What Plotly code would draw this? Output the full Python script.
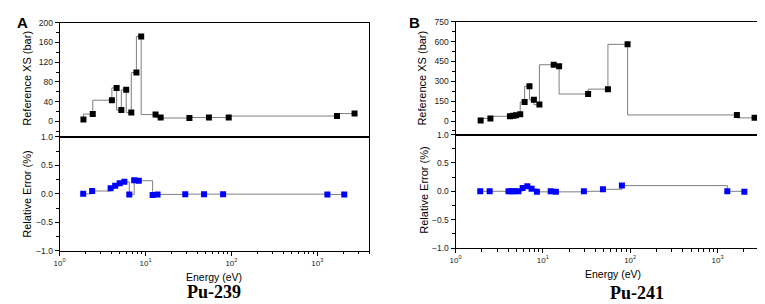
import plotly.graph_objects as go

# ---------------- data ----------------
# Pu-239
energy_239 = [1.88, 2.39, 3.92, 4.43, 5.0, 5.67, 6.47, 7.38, 8.35, 12.1, 13.8, 29, 48, 80, 1310, 2060]
xs_239 = [4, 15, 43, 68, 23, 64, 18, 99, 172, 14, 8, 7, 8, 8, 11, 16]
err_239 = [0.0, 0.05, 0.1, 0.14, 0.185, 0.21, -0.01, 0.24, 0.23, -0.02, -0.01, -0.005, -0.005, -0.005, -0.01, -0.01]

# Pu-241
energy_241 = [1.92, 2.46, 4.04, 4.40, 4.72, 5.25, 5.87, 6.64, 7.43, 8.55, 12.3, 14.1, 29.5, 48.8, 80.4, 1295, 2030]
xs_241 = [5, 20, 36, 40, 44, 52, 143, 262, 160, 124, 425, 413, 204, 241, 579, 46, 24]
err_241 = [0, 0, 0, 0, 0, 0, 0.06, 0.09, 0.045, -0.01, 0, -0.01, 0, 0.035, 0.1, 0, -0.01]

x_tickvals = [1, 10, 100, 1000]
x_ticktext = ["10<sup>0</sup>", "10<sup>1</sup>", "10<sup>2</sup>", "10<sup>3</sup>"]
x_minor = [m * d for d in (1, 10, 100, 1000) for m in range(2, 10)]
err_ticks = [-1.0, -0.5, 0.0, 0.5, 1.0]
err_minor = [-0.75, -0.25, 0.25, 0.75]
xs239_ticks = [0, 40, 80, 120, 160, 200]
xs239_minor = [-20, 20, 60, 100, 140, 180]
xs241_ticks = [0, 150, 300, 450, 600, 750]
xs241_minor = [-75, 75, 225, 375, 525, 675]

W, H = 765, 304
LINE = "#7f7f7f"
FONT = "Liberation Sans, Arial, sans-serif"


def px(x):
    return x / W


def py(y):
    return 1 - y / H


fig = go.Figure()


def add_series(x, y, xa, ya, color, shape):
    fig.add_trace(go.Scatter(
        x=x, y=y, xaxis=xa, yaxis=ya, mode="lines+markers",
        line=dict(color=LINE, width=1, shape=shape),
        marker=dict(symbol="square", size=6, color=color, line=dict(width=0)),
        showlegend=False, hoverinfo="x+y"))


def add_anchor(xa, ya, x, y):
    # invisible point so that the minor-tick overlay axes get drawn
    fig.add_trace(go.Scatter(x=[x], y=[y], xaxis=xa, yaxis=ya, mode="markers",
                             marker=dict(opacity=0, size=1), showlegend=False,
                             hoverinfo="skip"))


add_series(energy_239, xs_239, "x", "y", "black", "vh")
add_series(energy_239, err_239, "x2", "y2", "#0000ff", "hv")
add_series(energy_241, xs_241, "x3", "y3", "black", "vh")
add_series(energy_241, err_241, "x4", "y4", "#0000ff", "hv")

add_anchor("x5", "y2", energy_239[0], err_239[0])
add_anchor("x6", "y4", energy_241[0], err_241[0])
add_anchor("x", "y5", energy_239[0], xs_239[0])
add_anchor("x2", "y6", energy_239[0], err_239[0])
add_anchor("x3", "y7", energy_241[0], xs_241[0])
add_anchor("x4", "y8", energy_241[0], err_241[0])

tickfont = dict(family=FONT, size=8.5, color="#222")

common_axis = dict(showline=True, linecolor="black", linewidth=1, mirror=True,
                   showgrid=False, zeroline=False, tickfont=tickfont)


def top_x(dom, rng, anchor):
    return dict(common_axis, type="log", domain=dom, range=rng, anchor=anchor,
                showticklabels=False, ticks="")


def bot_x(dom, rng, anchor):
    return dict(common_axis, type="log", domain=dom, range=rng, anchor=anchor,
                tickmode="array", tickvals=x_tickvals, ticktext=x_ticktext,
                ticks="outside", ticklen=4, tickcolor="black",
                tickfont=dict(family=FONT, size=8, color="#222"))


def minor_x(dom, rng, anchor, over):
    return dict(type="log", domain=dom, range=rng, anchor=anchor, overlaying=over,
                side="bottom", showline=False, showgrid=False, zeroline=False,
                tickmode="array", tickvals=x_minor, ticks="outside", ticklen=2.5,
                tickcolor="black", showticklabels=False)


def yax(dom, rng, anchor, tv, fmt):
    return dict(common_axis, domain=dom, range=rng, anchor=anchor,
                tickmode="array", tickvals=tv, tickformat=fmt, ticks="outside",
                ticklen=4, tickcolor="black")


def minor_y(dom, rng, anchor, over, tv):
    return dict(domain=dom, range=rng, anchor=anchor, overlaying=over, side="left",
                showline=False, showgrid=False, zeroline=False,
                tickmode="array", tickvals=tv, ticks="outside", ticklen=2.5,
                tickcolor="black", showticklabels=False)


A_x = [px(46), px(358)]
B_x = [px(445), px(761)]
A_top = [py(128), py(10)]
A_bot = [py(246), py(128)]
B_top = [py(125.7), py(9)]
B_bot = [py(243), py(125.7)]

fig.update_layout(
    width=W, height=H, margin=dict(l=0, r=0, t=0, b=0),
    paper_bgcolor="white", plot_bgcolor="white",
    xaxis=top_x(A_x, [0.0073, 3.478], "y"),
    yaxis=yax(A_top, [-31, 200], "x", xs239_ticks, "d"),
    xaxis2=bot_x(A_x, [0, 3.604], "y2"),
    yaxis2=yax(A_bot, [-1, 1], "x2", err_ticks, ".1f"),
    xaxis3=top_x(B_x, [0.0056, 3.467], "y3"),
    yaxis3=yax(B_top, [-102, 750], "x3", xs241_ticks, "d"),
    xaxis4=bot_x(B_x, [0, 3.59], "y4"),
    yaxis4=yax(B_bot, [-1, 1], "x4", err_ticks, ".1f"),
    # minor tick overlay axes
    xaxis5=minor_x(A_x, [0, 3.604], "y2", "x2"),
    xaxis6=minor_x(B_x, [0, 3.59], "y4", "x4"),
    yaxis5=minor_y(A_top, [-31, 200], "x", "y", xs239_minor),
    yaxis6=minor_y(A_bot, [-1, 1], "x2", "y2", err_minor),
    yaxis7=minor_y(B_top, [-102, 750], "x3", "y3", xs241_minor),
    yaxis8=minor_y(B_bot, [-1, 1], "x4", "y4", err_minor),
)

annos = [
    dict(text="<b>A</b>", x=px(9), y=py(10), size=15, family=FONT, angle=0),
    dict(text="<b>B</b>", x=px(404), y=py(10), size=15, family=FONT, angle=0),
    dict(text="Reference XS (bar)", x=px(13), y=py(67), size=11, family=FONT, angle=-90),
    dict(text="Relative Error (%)", x=px(13), y=py(187), size=11, family=FONT, angle=-90),
    dict(text="Reference XS (bar)", x=px(411), y=py(67), size=11, family=FONT, angle=-90),
    dict(text="Relative Error (%)", x=px(413), y=py(183), size=11, family=FONT, angle=-90),
    dict(text="Energy (eV)", x=px(202), y=py(273), size=10.5, family=FONT, angle=0),
    dict(text="Energy (eV)", x=px(604), y=py(270), size=10.5, family=FONT, angle=0),
    dict(text="<b>Pu-239</b>", x=px(202), y=py(288), size=18,
         family="Liberation Serif, Times New Roman, serif", angle=0),
    dict(text="<b>Pu-241</b>", x=px(628), y=py(290), size=18,
         family="Liberation Serif, Times New Roman, serif", angle=0),
]
for a in annos:
    fig.add_annotation(text=a["text"], x=a["x"], y=a["y"], xref="paper", yref="paper",
                       xanchor="center", yanchor="middle", showarrow=False,
                       textangle=a["angle"],
                       font=dict(family=a["family"], size=a["size"], color="black"))

fig.write_html("out.html")
